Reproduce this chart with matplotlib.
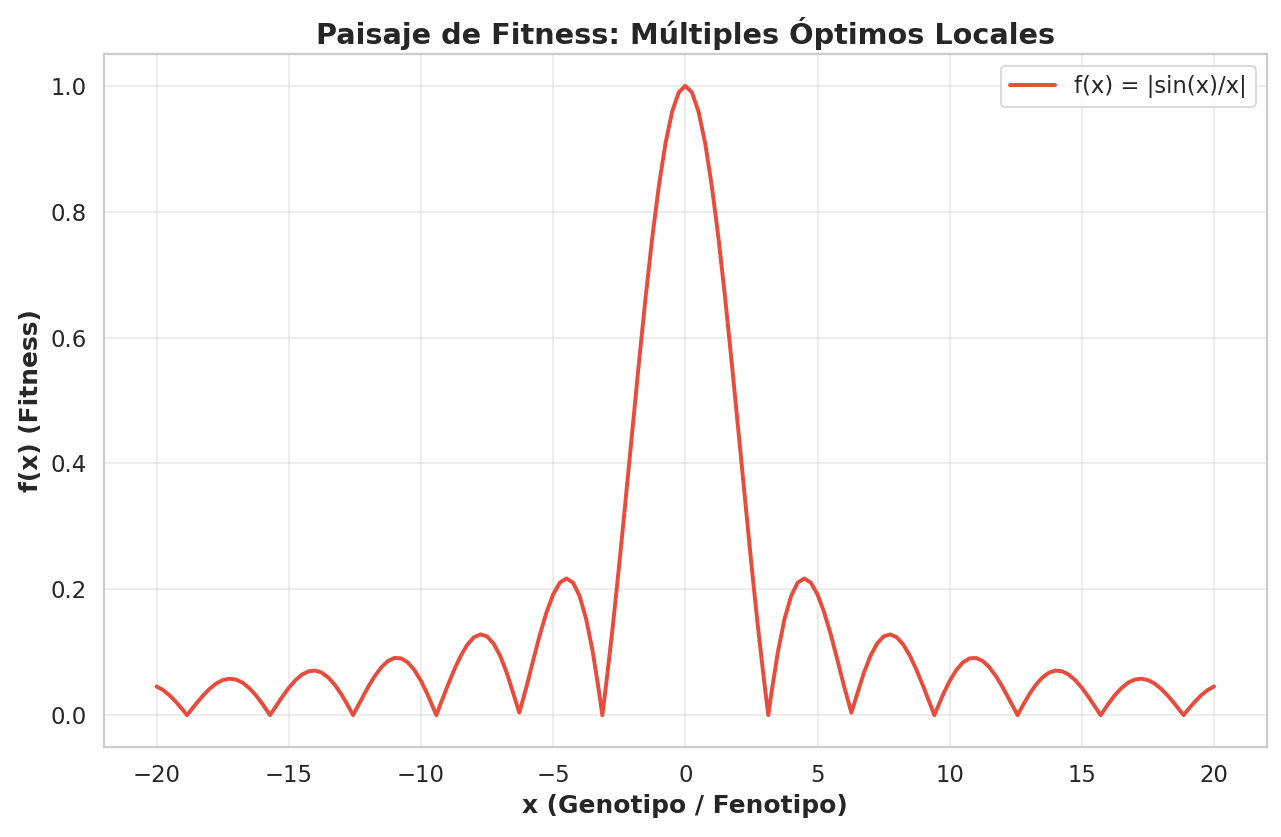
import matplotlib
matplotlib.use("Agg")
import matplotlib.pyplot as plt
import seaborn as sns

# values (|sin(x)/x| shape), left half then right half
X_LEFT = [-20.0, -19.75, -19.5, -19.25, -19.0, -18.85, -18.5, -18.25, -18.0, -17.75,
          -17.5, -17.25, -17.0, -16.75, -16.5, -16.25, -16.0, -15.71, -15.5, -15.25,
          -15.0, -14.75, -14.5, -14.25, -14.0, -13.75, -13.5, -13.25, -13.0, -12.75,
          -12.57, -12.25, -12.0, -11.75, -11.5, -11.25, -11.0, -10.75, -10.5, -10.25,
          -10.0, -9.75, -9.42, -9.25, -9.0, -8.75, -8.5, -8.25, -8.0, -7.75,
          -7.5, -7.25, -7.0, -6.75, -6.5, -6.28, -6.0, -5.75, -5.5, -5.25,
          -5.0, -4.75, -4.5, -4.25, -4.0, -3.75, -3.5, -3.25, -3.14, -3.0,
          -2.75, -2.5, -2.25, -2.0, -1.75, -1.5, -1.25, -1.0, -0.75, -0.5,
          -0.25]
Y_LEFT = [0.0456, 0.0397, 0.0311, 0.0202, 0.0079, 0.0, 0.0185, 0.0309, 0.0417, 0.0502,
          0.0557, 0.0579, 0.0565, 0.0516, 0.0431, 0.0318, 0.0180, 0.0, 0.0133, 0.0290,
          0.0434, 0.0555, 0.0645, 0.0697, 0.0708, 0.0674, 0.0595, 0.0477, 0.0323, 0.0143,
          0.0, 0.0252, 0.0447, 0.0620, 0.0761, 0.0860, 0.0909, 0.0902, 0.0838, 0.0717,
          0.0544, 0.0328, 0.0, 0.0188, 0.0458, 0.0714, 0.0939, 0.1118, 0.1237, 0.1283,
          0.1251, 0.1135, 0.0939, 0.0667, 0.0331, 0.004, 0.0466, 0.0881, 0.1283, 0.1636,
          0.1918, 0.2104, 0.2172, 0.2106, 0.1892, 0.1524, 0.1002, 0.0332, 0.0, 0.0470,
          0.1388, 0.2394, 0.3458, 0.4546, 0.5623, 0.6650, 0.7592, 0.8415, 0.9089, 0.9589,
          0.9896]
X_RIGHT = [0.0, 0.25, 0.5, 0.75, 1.0, 1.25, 1.5, 1.75, 2.0, 2.25,
           2.5, 2.75, 3.0, 3.14, 3.25, 3.5, 3.75, 4.0, 4.25, 4.5,
           4.75, 5.0, 5.25, 5.5, 5.75, 6.0, 6.28, 6.5, 6.75, 7.0,
           7.25, 7.5, 7.75, 8.0, 8.25, 8.5, 8.75, 9.0, 9.25, 9.42,
           9.75, 10.0, 10.25, 10.5, 10.75, 11.0, 11.25, 11.5, 11.75, 12.0,
           12.25, 12.57, 12.75, 13.0, 13.25, 13.5, 13.75, 14.0, 14.25, 14.5,
           14.75, 15.0, 15.25, 15.5, 15.71, 16.0, 16.25, 16.5, 16.75, 17.0,
           17.25, 17.5, 17.75, 18.0, 18.25, 18.5, 18.85, 19.0, 19.25, 19.5,
           19.75, 20.0]
Y_RIGHT = [1.0, 0.9896, 0.9589, 0.9089, 0.8415, 0.7592, 0.6650, 0.5623, 0.4546, 0.3458,
           0.2394, 0.1388, 0.0470, 0.0, 0.0332, 0.1002, 0.1524, 0.1892, 0.2106, 0.2172,
           0.2104, 0.1918, 0.1636, 0.1283, 0.0881, 0.0466, 0.004, 0.0331, 0.0667, 0.0939,
           0.1135, 0.1251, 0.1283, 0.1237, 0.1118, 0.0939, 0.0714, 0.0458, 0.0188, 0.0,
           0.0328, 0.0544, 0.0717, 0.0838, 0.0902, 0.0909, 0.0860, 0.0761, 0.0620, 0.0447,
           0.0252, 0.0, 0.0143, 0.0323, 0.0477, 0.0595, 0.0674, 0.0708, 0.0697, 0.0645,
           0.0555, 0.0434, 0.0290, 0.0133, 0.0, 0.0180, 0.0318, 0.0431, 0.0516, 0.0565,
           0.0579, 0.0557, 0.0502, 0.0417, 0.0309, 0.0185, 0.0, 0.0079, 0.0202, 0.0311,
           0.0397, 0.0456]

sns.set_theme(style="whitegrid")
fig, ax = plt.subplots(figsize=(10, 6.534), dpi=128.1)
fig.subplots_adjust(left=0.081, right=0.989, top=0.935, bottom=0.108)

ax.plot(X_LEFT + X_RIGHT, Y_LEFT + Y_RIGHT, color="#e74c3c", lw=2.2,
        label="f(x) = |sin(x)/x|")
ax.set_xlim(-22, 22)
ax.set_ylim(-0.05, 1.05)
ax.set_title("Paisaje de Fitness: Múltiples Óptimos Locales", fontsize=16.2, fontweight="bold")
ax.set_xlabel("x (Genotipo / Fenotipo)", fontsize=14, fontweight="bold")
ax.set_ylabel("f(x) (Fitness)", fontsize=14, fontweight="bold")
ax.tick_params(labelsize=12.8)
ax.grid(alpha=0.4)
ax.legend(loc="upper right", fontsize=12.8)
fig.savefig("out.png", dpi=128.1)
